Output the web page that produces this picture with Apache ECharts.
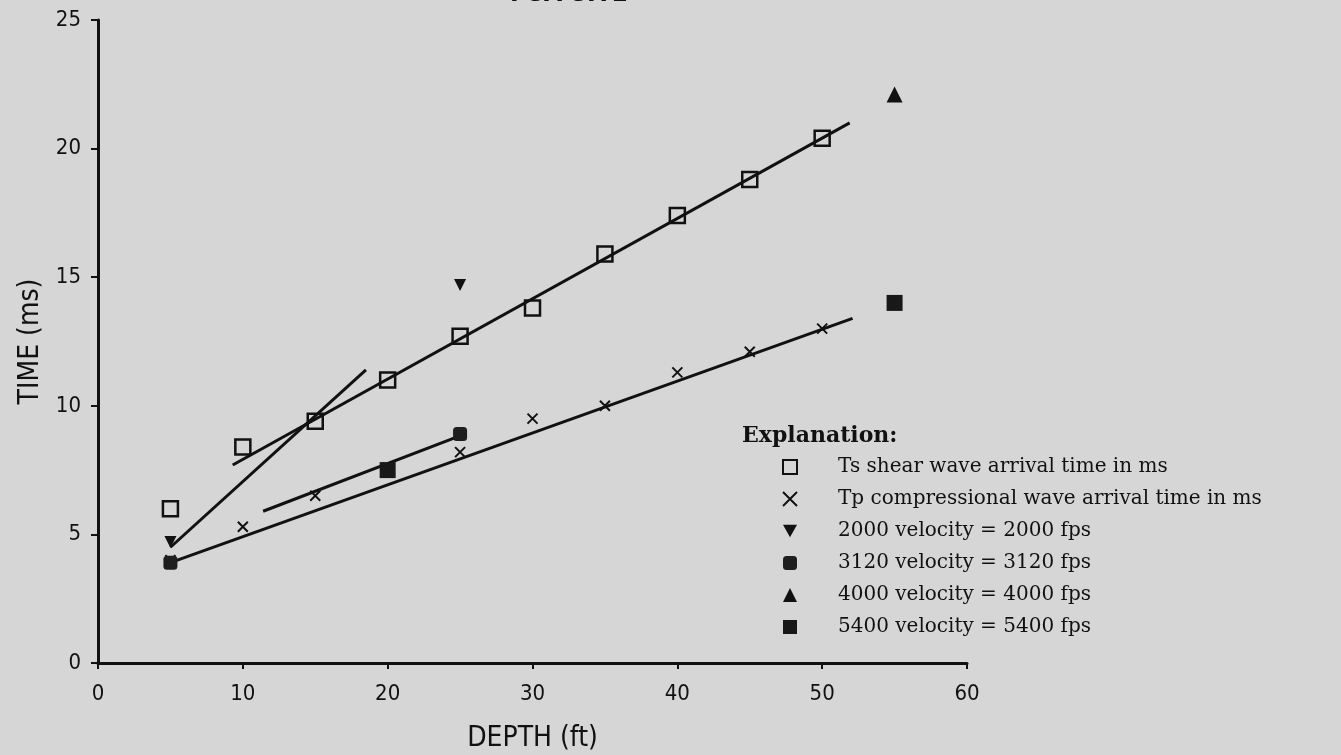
<!DOCTYPE html>
<html>
<head>
<meta charset="utf-8">
<script src="https://cdn.jsdelivr.net/npm/echarts@6/dist/echarts.min.js"></script>
<style>
    html, body { margin: 0; padding: 0; background: #d6d6d6; }
    #chart { width: 1341px; height: 755px; }
</style>
</head>
<body>
<div id="chart"></div>
<script>
// depth (ft) and arrival times (ms)
var depths = [5, 10, 15, 20, 25, 30, 35, 40, 45, 50];
var tsTimes = [6.0, 8.4, 9.4, 11.0, 12.7, 13.8, 15.9, 17.4, 18.8, 20.4];
var tpTimes = [4.0, 5.3, 6.5, 7.6, 8.2, 9.5, 10.0, 11.3, 12.1, 13.0];
var v2000 = [[5, 4.7], [25, 14.7]];
var v3120 = [[5, 3.9], [25, 8.9]];
var v4000 = [[55, 22.1]];
var v5400 = [[20, 7.5], [55, 14.0]];
// fitted line segments, [start, end]
var fitTsUpper = [[9.3, 7.7], [51.9, 21.0]];
var fitTsLower = [[5.0, 4.5], [18.5, 11.4]];
var fitTpMain = [[5.0, 3.9], [52.1, 13.4]];
var fitTpShort = [[11.4, 5.9], [25.3, 8.9]];
var xTicks = [0, 10, 20, 30, 40, 50, 60];
var yTicks = [0, 5, 10, 15, 20, 25];

var legendNames = [
    "Ts shear wave arrival time in ms",
    "Tp compressional wave arrival time in ms",
    "2000 velocity = 2000 fps",
    "3120 velocity = 3120 fps",
    "4000 velocity = 4000 fps",
    "5400 velocity = 5400 fps"
];

var ink = '#111111';
var plotFont = '"Liberation Sans Narrow", "DejaVu Sans Condensed", sans-serif';
var textFont = '"DejaVu Serif", serif';

function pairs(xs, ys) {
    var out = [];
    for (var i = 0; i < xs.length; i++) {
        out.push([xs[i], ys[i]]);
    }
    return out;
}

function fitLine(data) {
    return {
        type: 'line',
        data: data,
        symbol: 'none',
        silent: true,
        z: 1,
        lineStyle: { color: ink, width: 3 }
    };
}

var chart = echarts.init(document.getElementById('chart'));
chart.setOption({
    backgroundColor: '#d6d6d6',
    animation: false,
    title: [{
        text: 'PSA SITE',
        left: 505,
        top: -24,
        textStyle: { fontFamily: plotFont, fontSize: 26, fontWeight: 'bold', color: ink }
    }, {
        text: 'Explanation:',
        left: 737,
        top: 420,
        textStyle: { fontFamily: textFont, fontSize: 22, fontWeight: 'bold', color: ink }
    }],
    grid: { left: 98, right: 374, top: 20, bottom: 92, containLabel: false, outerBoundsMode: 'none' },
    legend: {
        data: legendNames,
        orient: 'vertical',
        left: 777,
        top: 450,
        itemWidth: 14,
        itemHeight: 14,
        itemGap: 8,
        selectedMode: false,
        textStyle: {
            fontFamily: textFont,
            fontSize: 20,
            lineHeight: 24,
            color: ink,
            padding: [0, 0, 0, 36]
        }
    },
    xAxis: {
        type: 'value',
        min: xTicks[0],
        max: xTicks[xTicks.length - 1],
        interval: 10,
        name: 'DEPTH (ft)',
        nameLocation: 'middle',
        nameGap: 62,
        nameTextStyle: { fontFamily: plotFont, fontSize: 28, color: ink },
        splitLine: { show: false },
        axisLine: { lineStyle: { color: ink, width: 3 } },
        axisTick: { length: 6, lineStyle: { color: ink, width: 2 } },
        axisLabel: { fontFamily: plotFont, fontSize: 22, color: ink, margin: 20 }
    },
    yAxis: {
        type: 'value',
        min: yTicks[0],
        max: yTicks[yTicks.length - 1],
        interval: 5,
        name: 'TIME (ms)',
        nameLocation: 'middle',
        nameGap: 52,
        nameTextStyle: { fontFamily: plotFont, fontSize: 28, color: ink },
        splitLine: { show: false },
        axisLine: { show: true, lineStyle: { color: ink, width: 3 } },
        axisTick: { show: true, length: 7, lineStyle: { color: ink, width: 2 } },
        axisLabel: { fontFamily: plotFont, fontSize: 22, color: ink, margin: 17 }
    },
    series: [
        fitLine(fitTsUpper),
        fitLine(fitTsLower),
        fitLine(fitTpMain),
        fitLine(fitTpShort),
        {
            name: legendNames[0],
            type: 'scatter',
            data: pairs(depths, tsTimes),
            symbol: 'rect',
            symbolSize: 15,
            itemStyle: { color: 'rgba(0,0,0,0)', borderColor: ink, borderWidth: 2.5, opacity: 1 }
        }, {
            name: legendNames[1],
            type: 'scatter',
            data: pairs(depths, tpTimes),
            symbol: 'path://M0,0L10,10M10,0L0,10',
            symbolSize: 10,
            itemStyle: { color: 'rgba(0,0,0,0)', borderColor: ink, borderWidth: 2, opacity: 1 }
        }, {
            name: legendNames[2],
            type: 'scatter',
            data: v2000,
            symbol: 'path://M0,0L10,0L5,9Z',
            symbolSize: 12,
            itemStyle: { color: ink, opacity: 1 }
        }, {
            name: legendNames[3],
            type: 'scatter',
            data: v3120,
            symbol: 'roundRect',
            symbolSize: 14,
            itemStyle: { color: '#1e1e1e', opacity: 1 }
        }, {
            name: legendNames[4],
            type: 'scatter',
            data: v4000,
            symbol: 'triangle',
            symbolSize: 16,
            itemStyle: { color: ink, opacity: 1 }
        }, {
            name: legendNames[5],
            type: 'scatter',
            data: v5400,
            symbol: 'rect',
            symbolSize: 16,
            itemStyle: { color: '#181818', opacity: 1 }
        }
    ]
});
</script>
</body>
</html>
